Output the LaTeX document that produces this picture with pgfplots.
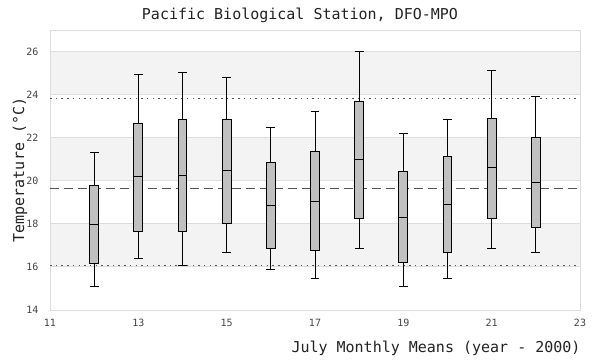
\documentclass[border=0pt]{standalone}
\usepackage{fontspec}
\setmainfont{DejaVu Sans Mono}
\usepackage{pgfplots}
\pgfplotsset{compat=1.18}
\usepgfplotslibrary{statistics}
\definecolor{band}{HTML}{F3F3F3}
\definecolor{gridc}{HTML}{DDDDDD}
\definecolor{boxc}{HTML}{C0C0C0}
\definecolor{tickc}{HTML}{444444}
\definecolor{refc}{HTML}{555555}
\definecolor{txt}{HTML}{222222}
\pgfplotsset{
  bx/.style={boxplot/draw direction=y, draw=black, fill=boxc, line width=0.9bp, solid,
    boxplot/box extend=0.2, boxplot/whisker extend=0.2},
}
\begin{document}
\begin{tikzpicture}
\begin{axis}[
  set layers,
  at={(50bp,50bp)}, anchor=south west,
  scale only axis, width=530bp, height=280bp,
  xmin=11, xmax=23, ymin=14, ymax=27,
  xtick={11,13,...,23}, ytick={14,16,...,26},
  major tick length=0pt,
  axis line style={draw=gridc, line width=0.9bp},
  ymajorgrids, grid style={draw=gridc, line width=0.9bp},
  /pgf/number format/assume math mode=true,
  tick label style={font=\fontsize{10bp}{12bp}\selectfont, text=tickc},
  xticklabel style={yshift=-6bp},
  yticklabel style={xshift=-8bp},
  title={Pacific Biological Station, DFO-MPO},
  title style={at={(axis description cs:0.4717,1)}, anchor=base, yshift=5bp,
    font=\fontsize{15bp}{18bp}\selectfont, text=txt},
  xlabel={July Monthly Means (year - 2000)},
  xlabel style={at={(axis description cs:1,0)}, anchor=base east, yshift=-42bp, xshift=4bp,
    font=\fontsize{15bp}{18bp}\selectfont, text=txt},
  ylabel={Temperature (°C)},
  ylabel style={at={(axis description cs:-0.049,0.5)}, anchor=base,
    font=\fontsize{15bp}{18bp}\selectfont, text=txt},
]
% background bands
\addplot[draw=none, fill=band, on layer=axis background, forget plot] coordinates {(11,16) (23,16) (23,18) (11,18) (11,16)};
\addplot[draw=none, fill=band, on layer=axis background, forget plot] coordinates {(11,20) (23,20) (23,22) (11,22) (11,20)};
\addplot[draw=none, fill=band, on layer=axis background, forget plot] coordinates {(11,24) (23,24) (23,26) (11,26) (11,24)};
% reference lines
\addplot[refc, line width=1bp, dash pattern=on 1.5bp off 4.2bp] coordinates {(11,23.81) (23,23.81)};
\addplot[refc, line width=1bp, dash pattern=on 9bp off 5bp] coordinates {(11,19.62) (23,19.62)};
\addplot[refc, line width=1bp, dash pattern=on 1.5bp off 4.2bp] coordinates {(11,16.08) (23,16.08)};
% boxes
\addplot[bx, boxplot prepared={draw position=12, lower whisker=15.10, lower quartile=16.17, median=17.99, upper quartile=19.76, upper whisker=21.30}] coordinates {};
\addplot[bx, boxplot prepared={draw position=13, lower whisker=16.39, lower quartile=17.67, median=20.18, upper quartile=22.68, upper whisker=24.93}] coordinates {};
\addplot[bx, boxplot prepared={draw position=14, lower whisker=16.08, lower quartile=17.67, median=20.27, upper quartile=22.87, upper whisker=25.02}] coordinates {};
\addplot[bx, boxplot prepared={draw position=15, lower whisker=16.69, lower quartile=18.04, median=20.46, upper quartile=22.87, upper whisker=24.82}] coordinates {};
\addplot[bx, boxplot prepared={draw position=16, lower whisker=15.90, lower quartile=16.86, median=18.87, upper quartile=20.86, upper whisker=22.49}] coordinates {};
\addplot[bx, boxplot prepared={draw position=17, lower whisker=15.48, lower quartile=16.78, median=19.06, upper quartile=21.37, upper whisker=23.21}] coordinates {};
\addplot[bx, boxplot prepared={draw position=18, lower whisker=16.87, lower quartile=18.27, median=20.97, upper quartile=23.67, upper whisker=26.00}] coordinates {};
\addplot[bx, boxplot prepared={draw position=19, lower whisker=15.10, lower quartile=16.22, median=18.32, upper quartile=20.41, upper whisker=22.21}] coordinates {};
\addplot[bx, boxplot prepared={draw position=20, lower whisker=15.48, lower quartile=16.69, median=18.92, upper quartile=21.11, upper whisker=22.83}] coordinates {};
\addplot[bx, boxplot prepared={draw position=21, lower whisker=16.87, lower quartile=18.27, median=20.60, upper quartile=22.88, upper whisker=25.12}] coordinates {};
\addplot[bx, boxplot prepared={draw position=22, lower whisker=16.69, lower quartile=17.81, median=19.90, upper quartile=22.00, upper whisker=23.91}] coordinates {};
\end{axis}
\useasboundingbox (0,0) rectangle (600bp,360bp);
\end{tikzpicture}
\end{document}
